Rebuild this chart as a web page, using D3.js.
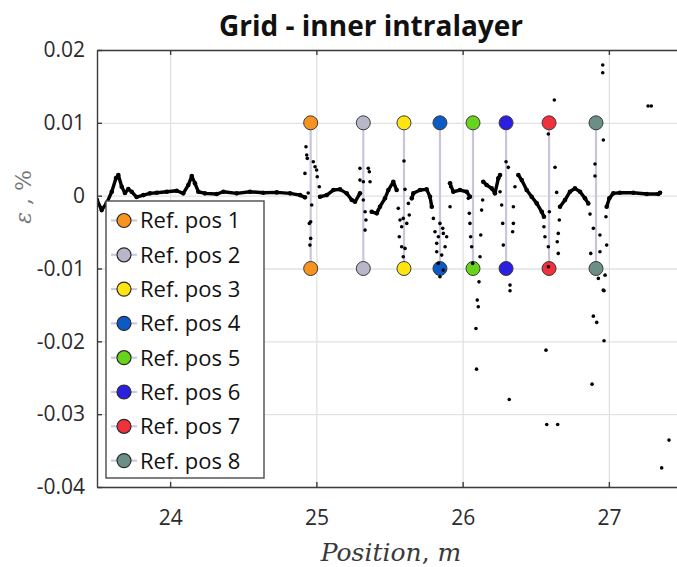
<!DOCTYPE html>
<html>
<head>
<meta charset="utf-8">
<script src="https://cdn.jsdelivr.net/npm/d3@7"></script>
<style>
  html, body { margin: 0; padding: 0; background: #fff; }
  svg { display: block; }
</style>
</head>
<body>
<script>
// tick values and labels
const xTicks = [24, 25, 26, 27]
const yTicks = [0.02, 0.01, 0, -0.01, -0.02, -0.03, -0.04]
const yTickLabels = ['0.02', '0.01', '0', '-0.01', '-0.02', '-0.03', '-0.04']

// reference positions (m) and their two marker levels
const refNames = ['Ref. pos 1', 'Ref. pos 2', 'Ref. pos 3', 'Ref. pos 4', 'Ref. pos 5', 'Ref. pos 6', 'Ref. pos 7', 'Ref. pos 8']
const refPos = [24.961, 25.321, 25.599, 25.845, 26.071, 26.297, 26.591, 26.912]
const refLevels = [0.01, -0.01]
const refColors = ['#f7931e', '#b8b7c9', '#ffe414', '#0b5ac6', '#66d41a', '#2b1fe0', '#f0303a', '#6b8e86']

// continuous strain trace [position, strain]; null = gap
const trace = [
  [23.500, -0.00060], [23.532, -0.00198], [23.566, -0.00102], [23.601, 0.00054], [23.630, 0.00242],
  [23.646, 0.00283], [23.669, 0.00122], [23.691, 0.00036], [23.714, 0.00091], [23.737, 0.00054],
  [23.771, -0.00019], [23.817, 0.00008], [23.862, 0.00032], [23.908, 0.00040], [23.977, 0.00054],
  [24.045, 0.00067], [24.090, 0.00032], [24.124, 0.00146], [24.148, 0.00269], [24.170, 0.00169],
  [24.193, 0.00054], [24.238, 0.00032], [24.318, 0.00022], [24.364, 0.00054], [24.455, 0.00032],
  [24.546, 0.00054], [24.637, 0.00040], [24.729, 0.00045], [24.820, 0.00032], [24.888, 0.00008],
  [24.922, -0.00023], null,
  [25.025, -0.00015], [25.071, 0.00008], [25.116, 0.00077], [25.162, 0.00087], [25.207, 0.00032],
  [25.242, -0.00060], [25.264, -0.00084], [25.298, 0.00032], null,
  [25.378, -0.00221], [25.413, -0.00243], [25.435, -0.00152], [25.469, -0.00037], [25.492, 0.00077],
  [25.526, 0.00191], [25.549, 0.00077], null,
  [25.652, -0.00037], [25.663, 0.00032], [25.709, 0.00077], [25.754, 0.00087], [25.777, -0.00015],
  [25.789, -0.00152], null,
  [25.914, 0.00169], [25.936, 0.00054], [25.982, 0.00077], [26.028, 0.00054], [26.050, -0.00015], null,
  [26.141, 0.00191], [26.164, 0.00146], [26.199, 0.00100], [26.221, 0.00032], [26.244, 0.00238],
  [26.256, 0.00283], null,
  [26.381, 0.00283], [26.404, 0.00214], [26.438, 0.00077], [26.472, -0.00015], [26.507, -0.00106],
  [26.541, -0.00221], [26.556, -0.00290], null,
  [26.666, -0.00152], [26.700, -0.00060], [26.734, 0.00054], [26.768, 0.00100], [26.803, 0.00054],
  [26.837, -0.00037], [26.859, -0.00106], null,
  [26.985, -0.00152], [27.003, -0.00037], [27.030, 0.00032], [27.076, 0.00040], [27.167, 0.00040],
  [27.259, 0.00022], [27.338, 0.00022], [27.350, 0.00040]
]

// scattered readings around the reference positions [position, strain]
const scatter = [
  [24.929, 0.00672], [24.934, 0.00558], [24.938, 0.00512], [24.979, 0.00466], [24.991, 0.00397],
  [25.002, 0.00352], [25.006, 0.00260], [25.020, 0.00122], [24.922, 0.00306], [24.968, -0.00129],
  [24.961, -0.00359], [24.952, -0.00381], [24.961, -0.00587], [24.956, -0.00679], [24.944, 0.00036],
  [25.298, 0.00375], [25.355, 0.00375], [25.362, 0.00328], [25.298, 0.00214], [25.321, 0.00191],
  [25.367, 0.00191], [25.321, -0.00060], [25.333, -0.00221], [25.339, -0.00335], [25.333, -0.00473],
  [25.423, -0.00198],
  [25.599, 0.00475], [25.606, 0.00087], [25.560, -0.00174], [25.572, -0.00335], [25.583, -0.00427],
  [25.594, -0.00312], [25.618, -0.00381], [25.567, -0.00565], [25.583, -0.00702], [25.606, -0.00724],
  [25.594, -0.00839], [25.629, -0.00106], [25.635, -0.00266],
  [25.800, -0.00312], [25.845, -0.00381], [25.864, -0.00449], [25.811, -0.00496], [25.834, -0.00565],
  [25.868, -0.00518], [25.891, -0.00565], [25.823, -0.00655], [25.880, -0.00702], [25.823, -0.00771],
  [25.857, -0.00816], [25.845, -0.01114], [25.834, -0.00930], [25.868, -0.01022], [25.914, -0.00152],
  [25.918, 0.00122],
  [26.039, -0.00037], [26.046, -0.00243], [26.050, -0.00381], [26.055, -0.00565], [26.062, -0.00702],
  [26.069, -0.00930], [26.112, -0.01183], [26.100, -0.01434], [26.107, -0.01526], [26.119, -0.00839],
  [26.124, -0.00541], [26.130, -0.00198], [26.137, -0.00060], [26.091, -0.01823], [26.095, -0.02382],
  [26.297, 0.00466], [26.312, 0.00389], [26.256, 0.00054], [26.267, -0.00129], [26.274, -0.00381],
  [26.278, -0.00679], [26.358, 0.00122], [26.347, -0.00152], [26.347, -0.00381], [26.342, -0.00496],
  [26.324, -0.01228], [26.324, -0.01306], [26.319, -0.02798],
  [26.627, 0.01313], [26.586, 0.00846], [26.632, 0.00389], [26.643, 0.00045], [26.593, -0.00221],
  [26.556, -0.00427], [26.563, -0.00565], [26.586, -0.00702], [26.661, -0.00335], [26.654, -0.00518],
  [26.647, -0.00633], [26.654, -0.00793], [26.586, -0.00977], [26.570, -0.02121], [26.575, -0.03142],
  [26.650, -0.03142],
  [26.958, 0.01794], [26.958, 0.01688], [26.962, 0.00764], [26.905, 0.00434], [26.905, 0.00269],
  [26.871, -0.00253], [26.894, -0.00449], [26.876, -0.00793], [26.939, -0.00541], [26.939, -0.00771],
  [26.985, -0.00679], [26.980, -0.00290], [26.928, -0.01136], [26.974, -0.01091], [26.962, -0.01297],
  [26.894, -0.01654], [26.917, -0.01740], [26.967, -0.01993], [26.967, -0.01306], [26.885, -0.02588],
  [27.268, 0.01231], [27.290, 0.01231], [27.411, -0.03356], [27.361, -0.03738]
]

const W = 677, H = 567
const margin = {top: 50, right: -5, bottom: 80, left: 97}
const width = W - margin.left - margin.right
const height = H - margin.top - margin.bottom

const svg = d3.select('body').append('svg')
  .attr('width', W)
  .attr('height', H)

const g = svg.append('g')
  .attr('transform', `translate(${margin.left}, ${margin.top})`)

const x = d3.scaleLinear().domain([23.5, 27.5]).range([0, width])
const y = d3.scaleLinear().domain([-0.04, 0.02]).range([height, 0])

svg.append('defs').append('clipPath').attr('id', 'plot-clip')
  .append('rect').attr('width', width).attr('height', height)

// grid
g.append('g')
  .call(d3.axisBottom(x).tickValues(xTicks).tickSize(height).tickFormat(''))
  .call(s => s.select('.domain').remove())
  .call(s => s.selectAll('line').attr('stroke', '#e2e2e2').attr('stroke-width', 1.3))
g.append('g')
  .call(d3.axisLeft(y).tickValues(yTicks).tickSize(-width).tickFormat(''))
  .call(s => s.select('.domain').remove())
  .call(s => s.selectAll('line').attr('stroke', '#e2e2e2').attr('stroke-width', 1.3))

const plot = g.append('g').attr('clip-path', 'url(#plot-clip)')

// connecting lines between the two markers of each reference position
plot.append('g').selectAll('line').data(refPos).enter()
  .append('line')
  .attr('x1', d => x(d)).attr('x2', d => x(d))
  .attr('y1', y(refLevels[0])).attr('y2', y(refLevels[1]))
  .attr('stroke', '#c9c5dc')
  .attr('stroke-width', 2.2)

// reference markers
refLevels.forEach(level => {
  plot.append('g').selectAll('circle').data(refPos).enter()
    .append('circle')
    .attr('cx', d => x(d))
    .attr('cy', y(level))
    .attr('r', 7)
    .attr('fill', (d, i) => refColors[i])
    .attr('stroke', '#3a3a3a')
    .attr('stroke-width', 1)
})

// trace: dense dots read as a thick line
plot.append('path')
  .datum(trace)
  .attr('fill', 'none')
  .attr('stroke', '#000')
  .attr('stroke-width', 3.4)
  .attr('stroke-linejoin', 'round')
  .attr('stroke-linecap', 'round')
  .attr('d', d3.line().defined(d => d !== null).x(d => x(d[0])).y(d => y(d[1])))
plot.append('g').selectAll('circle').data(trace.filter(d => d !== null)).enter()
  .append('circle')
  .attr('cx', d => x(d[0]))
  .attr('cy', d => y(d[1]))
  .attr('r', 2.3)
  .attr('fill', '#000')

// scattered points
plot.append('g').selectAll('circle').data(scatter).enter()
  .append('circle')
  .attr('cx', d => x(d[0]))
  .attr('cy', d => y(d[1]))
  .attr('r', 1.8)
  .attr('fill', '#000')

// axes (ticks pointing inward)
const axisColor = '#3c3c3c'
const styleAxis = s => {
  s.select('.domain').attr('stroke', axisColor).attr('stroke-width', 1.4)
  s.selectAll('.tick line').attr('stroke', axisColor).attr('stroke-width', 1.4)
  s.selectAll('text').attr('fill', '#2b2b2b')
    .style('font-family', '"Open Sans", sans-serif').style('font-size', '21px')
}
g.append('g')
  .attr('transform', `translate(0, ${height})`)
  .call(d3.axisBottom(x).tickValues(xTicks).tickSizeInner(-5).tickSizeOuter(0).tickPadding(23).tickFormat(d3.format('d')))
  .call(styleAxis)
g.append('g')
  .call(d3.axisTop(x).tickValues(xTicks).tickSizeInner(-5).tickSizeOuter(0).tickFormat(''))
  .call(styleAxis)
g.append('g')
  .call(d3.axisLeft(y).tickValues(yTicks).tickSizeInner(-5).tickSizeOuter(0).tickPadding(12)
    .tickFormat((d, i) => yTickLabels[i]))
  .call(styleAxis)
g.append('g')
  .attr('transform', `translate(${width}, 0)`)
  .call(d3.axisRight(y).tickValues(yTicks).tickSizeInner(-5).tickSizeOuter(0).tickFormat(''))
  .call(styleAxis)

// legend
const legend = svg.append('g').attr('transform', 'translate(106, 201)')
legend.append('rect')
  .attr('width', 158).attr('height', 277)
  .attr('fill', '#fff')
  .attr('stroke', '#4a4a4a')
  .attr('stroke-width', 1.4)
const rows = legend.selectAll('g.row').data(refNames).enter()
  .append('g').attr('class', 'row')
  .attr('transform', (d, i) => `translate(0, ${19.5 + i * 34.3})`)
rows.append('line')
  .attr('x1', 5).attr('x2', 31)
  .attr('stroke', '#c9c5dc').attr('stroke-width', 2)
rows.append('circle')
  .attr('cx', 18).attr('r', 7)
  .attr('fill', (d, i) => refColors[i])
  .attr('stroke', '#2a2a2a').attr('stroke-width', 1.2)
rows.append('text')
  .attr('x', 34).attr('dy', '0.36em')
  .attr('fill', '#111')
  .style('font-family', '"Open Sans", sans-serif').style('font-size', '22px')
  .text(d => d)

// title
svg.append('text')
  .attr('x', 371).attr('y', 36)
  .attr('text-anchor', 'middle')
  .style('font-family', '"Open Sans", sans-serif')
  .style('font-weight', 'bold').style('font-size', '28px')
  .attr('fill', '#111')
  .text('Grid - inner intralayer')

// axis labels
const xl = svg.append('text')
  .attr('x', 391).attr('y', 561)
  .attr('text-anchor', 'middle')
  .attr('fill', '#3a3a3a')
  .style('font-family', '"DejaVu Serif", "Liberation Serif", serif').style('font-size', '25px')
xl.append('tspan').style('font-style', 'italic').text('Position')
xl.append('tspan').text(', ')
xl.append('tspan').style('font-style', 'italic').text('m')

const yl = svg.append('text')
  .attr('transform', 'translate(31, 197) rotate(-90)')
  .attr('text-anchor', 'middle')
  .attr('fill', '#777')
  .style('font-family', '"DejaVu Serif", "Liberation Serif", serif').style('font-size', '22px')
yl.append('tspan').style('font-style', 'italic').text('ε')
yl.append('tspan').text(' , %')
</script>
</body>
</html>
